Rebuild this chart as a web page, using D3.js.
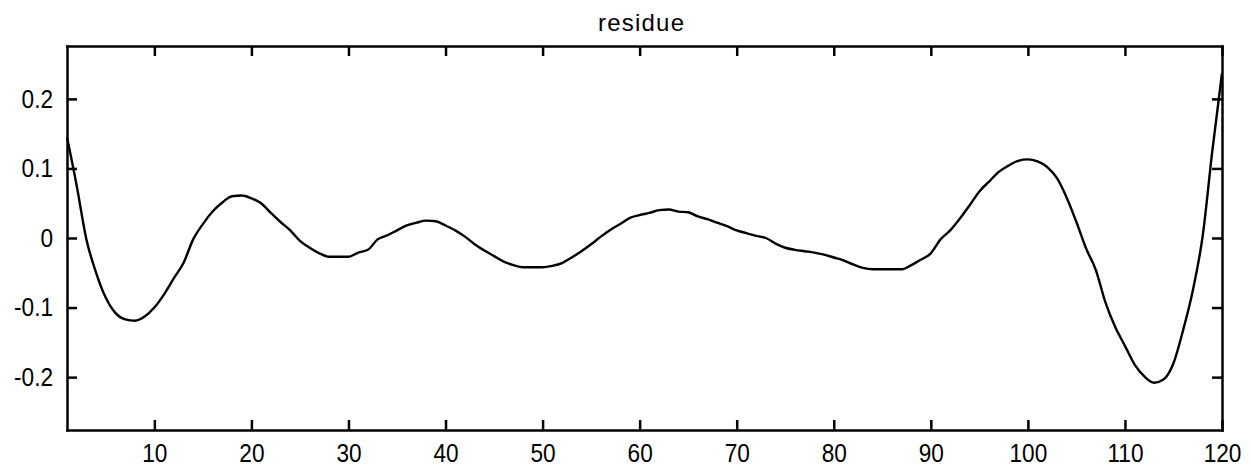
<!DOCTYPE html>
<html>
<head>
<meta charset="utf-8">
<script src="https://cdn.jsdelivr.net/npm/d3@7"></script>
<style>
  body { margin: 0; background: #fff; }
  svg { display: block; font-family: "Liberation Sans", Arial, sans-serif; }
  .axis path, .axis line { stroke: #000; stroke-width: 2.5; }
  .axis text { fill: #000; font-size: 26px; }
  .title { font-size: 24px; fill: #000; }
</style>
</head>
<body>
<div id="residue-graph"></div>
<script>
// residue values, one per sample index 1..120
const residue = [
  0.145, 0.075, -0.002, -0.050, -0.086, -0.108, -0.117, -0.119, -0.113, -0.100,
  -0.081, -0.058, -0.036, -0.002, 0.020, 0.038, 0.051, 0.060, 0.061, 0.057,
  0.050, 0.036, 0.023, 0.011, -0.004, -0.014, -0.022, -0.027, -0.027, -0.027,
  -0.021, -0.017, -0.002, 0.004, 0.011, 0.018, 0.022, 0.025, 0.024, 0.018,
  0.011, 0.002, -0.009, -0.018, -0.026, -0.034, -0.039, -0.042, -0.042, -0.042,
  -0.040, -0.036, -0.028, -0.019, -0.009, 0.002, 0.012, 0.020, 0.029, 0.033,
  0.036, 0.040, 0.041, 0.038, 0.037, 0.031, 0.027, 0.022, 0.017, 0.011,
  0.007, 0.003, 0.000, -0.008, -0.014, -0.017, -0.019, -0.021, -0.024, -0.028,
  -0.032, -0.038, -0.043, -0.045, -0.045, -0.045, -0.045, -0.039, -0.031, -0.022,
  -0.002, 0.011, 0.028, 0.047, 0.067, 0.081, 0.095, 0.104, 0.111, 0.113,
  0.110, 0.102, 0.086, 0.058, 0.023, -0.015, -0.046, -0.093, -0.128, -0.155,
  -0.182, -0.199, -0.208, -0.203, -0.180, -0.132, -0.075, 0.002, 0.125, 0.237
]
const samples = residue.map((v, i) => i + 1)

const xTicks = [10, 20, 30, 40, 50, 60, 70, 80, 90, 100, 110, 120]
const yTicks = [-0.2, -0.1, 0, 0.1, 0.2]
const yTickLabels = ['-0.2', '-0.1', '0', '0.1', '0.2']
const xDomain = [1, 120]
const yDomain = [-0.276, 0.276]
const titleText = 'residue'

const width = 1251
const height = 471
const margin = { top: 46, right: 29, bottom: 41, left: 67 }
const innerW = width - margin.left - margin.right
const innerH = height - margin.top - margin.bottom
const squeeze = 0.87

const svg = d3.select('#residue-graph')
  .append('svg')
  .attr('width', width)
  .attr('height', height)

const g = svg.append('g')
  .attr('transform', 'translate(' + margin.left + ',' + margin.top + ')')

const x = d3.scaleLinear().domain(xDomain).range([0, innerW])
const y = d3.scaleLinear().domain(yDomain).range([innerH, 0])

// bottom axis with labels
g.append('g')
  .attr('class', 'x axis')
  .attr('transform', 'translate(0,' + innerH + ')')
  .call(d3.axisBottom(x).tickValues(xTicks).tickSizeInner(-10).tickSizeOuter(0).tickPadding(14))
  .selectAll('text')
  .attr('transform', 'scale(' + squeeze + ',1)')

// top axis, ticks only
g.append('g')
  .attr('class', 'x axis')
  .call(d3.axisTop(x).tickValues(xTicks).tickSizeInner(-10).tickSizeOuter(0).tickFormat(''))

// left axis with labels
g.append('g')
  .attr('class', 'y axis')
  .call(d3.axisLeft(y).tickValues(yTicks).tickSizeInner(-10).tickSizeOuter(0)
    .tickFormat((d, i) => yTickLabels[i]))
  .selectAll('text')
  .attr('x', -14 / squeeze)
  .attr('transform', 'scale(' + squeeze + ',1)')

// right axis, ticks only
g.append('g')
  .attr('class', 'y axis')
  .attr('transform', 'translate(' + innerW + ',0)')
  .call(d3.axisRight(y).tickValues(yTicks).tickSizeInner(-10).tickSizeOuter(0).tickFormat(''))

g.selectAll('.axis .domain').attr('stroke-linecap', 'square')

const line = d3.line()
  .x((d, i) => x(samples[i]))
  .y(d => y(d))
  .curve(d3.curveMonotoneX)

g.append('path')
  .datum(residue)
  .attr('fill', 'none')
  .attr('stroke', '#000')
  .attr('stroke-width', 2.4)
  .attr('stroke-linejoin', 'round')
  .attr('d', line)

svg.append('text')
  .attr('class', 'title')
  .attr('x', 641)
  .attr('y', 31)
  .attr('text-anchor', 'middle')
  .attr('textLength', 86)
  .attr('lengthAdjust', 'spacing')
  .text(titleText)
</script>
</body>
</html>
